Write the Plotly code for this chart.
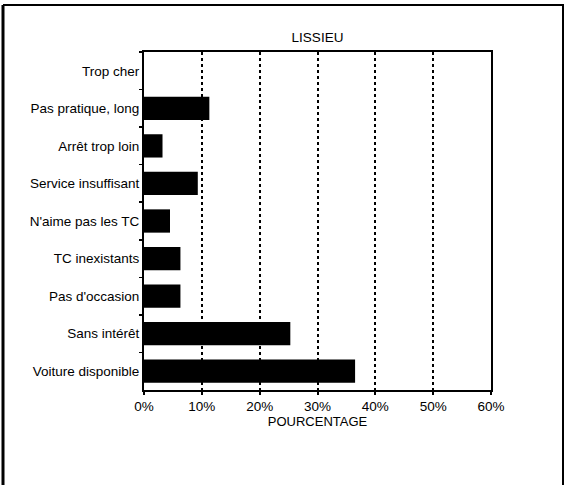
import plotly.graph_objects as go

categories = ["Trop cher", "Pas pratique, long", "Arrêt trop loin", "Service insuffisant",
              "N'aime pas les TC", "TC inexistants", "Pas d'occasion", "Sans intérêt",
              "Voiture disponible"]
values = [0, 11.3, 3.2, 9.3, 4.5, 6.3, 6.3, 25.3, 36.5]
x_ticks = [0, 10, 20, 30, 40, 50, 60]
x_labels = ["0%", "10%", "20%", "30%", "40%", "50%", "60%"]

W, H = 567, 485
L, R, T, B = 144, 76, 52, 95

fig = go.Figure(go.Bar(
    x=values, y=categories, orientation="h",
    marker=dict(color="black", line=dict(width=0)),
    width=0.62,
))

font = dict(family="Liberation Sans, Arial, sans-serif", size=13.5, color="black")

fig.update_layout(
    width=W, height=H,
    margin=dict(l=L, r=R, t=T, b=B, pad=0),
    paper_bgcolor="white", plot_bgcolor="white",
    font=font,
    showlegend=False,
    title=dict(text="LISSIEU", x=(L + (W - R)) / 2 / W, xanchor="center",
               y=1 - 37 / H, yanchor="middle", font=dict(size=13.5, color="black")),
    xaxis=dict(
        range=[0, 60], tickvals=x_ticks, ticktext=x_labels,
        showgrid=True, gridcolor="black", griddash="dot", gridwidth=2,
        showline=True, linecolor="black", linewidth=2, mirror=True,
        ticks="outside", ticklen=3, tickcolor="black", tickwidth=2,
        zeroline=False,
        title=dict(text="POURCENTAGE", standoff=0, font=dict(size=13)),
        fixedrange=True,
    ),
    yaxis=dict(
        autorange="reversed",
        showgrid=False,
        showline=True, linecolor="black", linewidth=2, mirror=True,
        ticks="outside", ticklen=3, tickcolor="black", tickwidth=1.5,
        tickson="boundaries",
        ticklabelstandoff=0,
        fixedrange=True,
    ),
)

# outer frame (in paper coordinates computed from pixel positions)
pw = W - L - R
ph = H - T - B
def px(x):
    return (x - L) / pw
def py(y):
    return 1 - (y - T) / ph

fig.add_shape(type="line", xref="paper", yref="paper",
              x0=px(3), x1=px(3), y0=py(5), y1=py(490),
              line=dict(color="black", width=3))
fig.add_shape(type="line", xref="paper", yref="paper",
              x0=px(3), x1=px(564), y0=py(5), y1=py(5),
              line=dict(color="black", width=2))
fig.add_shape(type="line", xref="paper", yref="paper",
              x0=px(563), x1=px(563), y0=py(5), y1=py(490),
              line=dict(color="black", width=2))

fig.write_html("out.html",
               config={"displayModeBar": False, "staticPlot": True},
               post_script="document.body.style.margin='0';document.body.style.overflow='hidden';")
